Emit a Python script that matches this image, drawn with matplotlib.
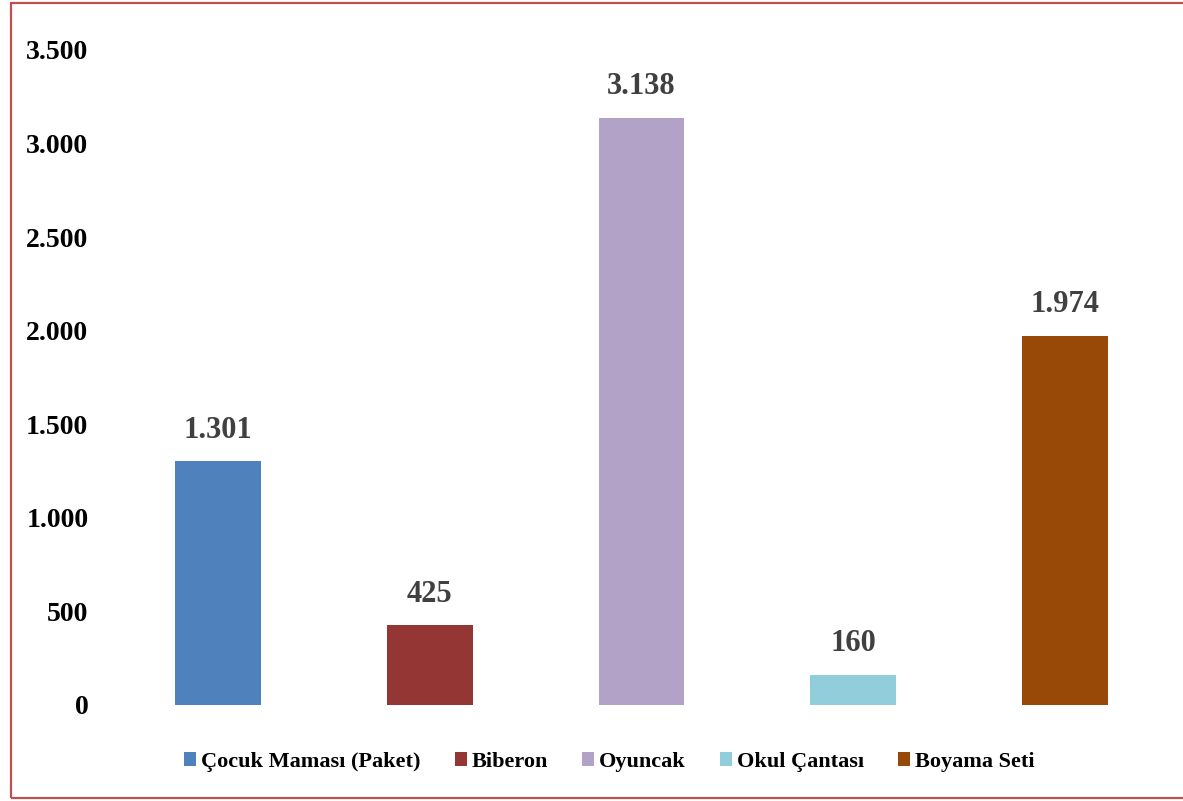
import matplotlib.pyplot as plt
from matplotlib.patches import Rectangle
from matplotlib.ticker import FuncFormatter

categories = ["Çocuk Maması (Paket)", "Biberon", "Oyuncak", "Okul Çantası", "Boyama Seti"]
values = [1301, 425, 3138, 160, 1974]
colors = ["#4F81BD", "#943634", "#B2A2C7", "#92CDDC", "#984807"]


def tr_fmt(v, pos=None):
    return f"{int(v):,}".replace(",", ".")


plt.rcParams['font.family'] = ['Liberation Serif', 'DejaVu Serif']
plt.rcParams['font.weight'] = 'bold'

fig = plt.figure(figsize=(11.83, 8.01), dpi=100)
ax = fig.add_axes([0.0947, 0.1199, 0.8952, 0.8177])

x = list(range(len(categories)))
bars = ax.bar(x, values, width=0.405, color=colors, label=categories)

for b, v in zip(bars, values):
    ax.text(b.get_x() + b.get_width() / 2, v + 90, tr_fmt(v), ha="center", va="bottom",
            fontsize=22, fontweight="bold", color="#404040")

ax.set_xlim(-0.5, 4.5)
ax.set_ylim(0, 3500)
ax.set_yticks(range(0, 3501, 500))
ax.yaxis.set_major_formatter(FuncFormatter(tr_fmt))
ax.set_xticks([])
ax.tick_params(axis="y", length=0, labelsize=20, pad=17)
for lbl in ax.get_yticklabels():
    lbl.set_fontweight("bold")
for s in ax.spines.values():
    s.set_visible(False)

leg = fig.legend(handles=list(bars), labels=categories, loc="center", bbox_to_anchor=(0.515, 0.049),
                 ncol=5, frameon=False, fontsize=16, handlelength=0.55, handleheight=0.55,
                 handletextpad=0.2, columnspacing=1.55)
for t in leg.get_texts():
    t.set_fontweight("bold")

# outer red frame
fig.patches.append(Rectangle((11 / 1183, 3 / 801), 1.2, 795 / 801, transform=fig.transFigure,
                             fill=False, edgecolor="#C0504D", linewidth=1.6, clip_on=False))

fig.savefig("out.png", dpi=100)
